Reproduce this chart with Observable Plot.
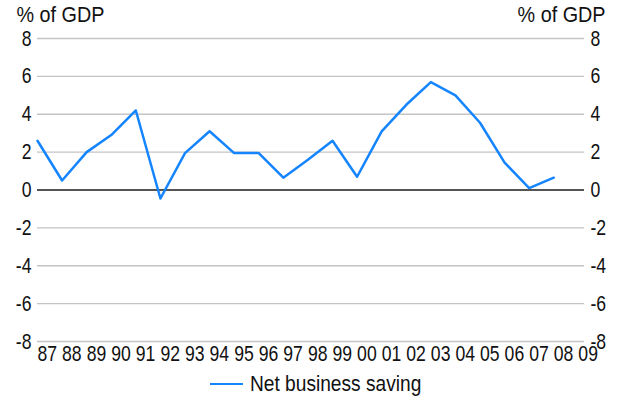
<!DOCTYPE html>
<html>
<head>
<meta charset="utf-8">
<script src="https://cdn.jsdelivr.net/npm/d3@7"></script>
<script src="https://cdn.jsdelivr.net/npm/@observablehq/plot@0.6"></script>
<style>
  html, body { margin: 0; padding: 0; background: #fff; }
  body { width: 621px; height: 401px; overflow: hidden; position: relative;
         font-family: "Liberation Sans", Arial, sans-serif; }
  #legend { position: absolute; left: 210px; top: 370px; height: 28px; display: flex; align-items: center;
            font-size: 22px; color: #111; }
  #legend .sw { width: 33px; height: 0; border-top: 2.5px solid #1585ff; margin-right: 7px; }
  #legend .lbl { display: inline-block; transform: scaleX(0.87); transform-origin: left center; white-space: nowrap; }
</style>
</head>
<body>
<div id="chart"></div>
<div id="legend"><span class="sw"></span><span class="lbl">Net business saving</span></div>
<script>
const years = [1987,1988,1989,1990,1991,1992,1993,1994,1995,1996,1997,1998,1999,2000,2001,2002,2003,2004,2005,2006,2007,2008];
const netBusinessSaving = [2.6,0.5,2.0,2.9,4.2,-0.45,1.95,3.1,1.95,1.95,0.65,1.6,2.6,0.7,3.1,4.5,5.7,5.0,3.55,1.45,0.1,0.65];
const xTickYears = d3.range(1987, 2010);
const yTicks = [-8,-6,-4,-2,0,2,4,6,8];
const unitLabel = "% of GDP";
const seriesName = "Net business saving";

const data = years.map((y, i) => ({year: y, value: netBusinessSaving[i]}));

const FS = 22;
const chart = Plot.plot({
  width: 621,
  height: 370,
  marginLeft: 37,
  marginRight: 37,
  marginTop: 38,
  marginBottom: 29,
  style: {fontFamily: '"Liberation Sans", Arial, sans-serif', fontSize: FS + "px", color: "#111"},
  x: {domain: [1987, 2009.25], axis: null},
  y: {domain: [-8, 8], axis: null},
  marks: [
    Plot.ruleY(yTicks.filter(d => d !== 0), {stroke: "#c4c4c4", strokeWidth: 1.3}),
    Plot.ruleY([0], {stroke: "#555", strokeWidth: 2}),
    Plot.axisY(yTicks, {anchor: "left", tickSize: 0, tickPadding: 6, label: null, fontSize: FS, tickFormat: d => String(d)}),
    Plot.axisY(yTicks, {anchor: "right", tickSize: 0, tickPadding: 6, label: null, fontSize: FS, textAnchor: "start", tickFormat: d => String(d)}),
    Plot.axisX(xTickYears, {anchor: "bottom", tickSize: 0, tickPadding: 4, label: null, textAnchor: "start",
      tickFormat: d => String(d % 100).padStart(2, "0"), fontSize: FS}),
    Plot.text([unitLabel], {frameAnchor: "top-left", dx: -21, dy: -32, textAnchor: "start", lineAnchor: "top", fontSize: FS, className: "unit"}),
    Plot.text([unitLabel], {frameAnchor: "top-right", dx: 21, dy: -32, textAnchor: "end", lineAnchor: "top", fontSize: FS, className: "unit"}),
    Plot.line(data, {x: "year", y: "value", stroke: "#1585ff", strokeWidth: 2.5})
  ]
});
// horizontally condense every text (narrow face look), keeping its anchor point fixed
chart.querySelectorAll("text").forEach(t => {
  const tr = t.getAttribute("transform") || "";
  const isUnit = t.closest("g.unit") !== null || t.textContent === unitLabel;
  t.setAttribute("transform", `${tr} scale(${isUnit ? 0.9 : 0.8},1)`);
});
document.getElementById("chart").appendChild(chart);
</script>
</body>
</html>
